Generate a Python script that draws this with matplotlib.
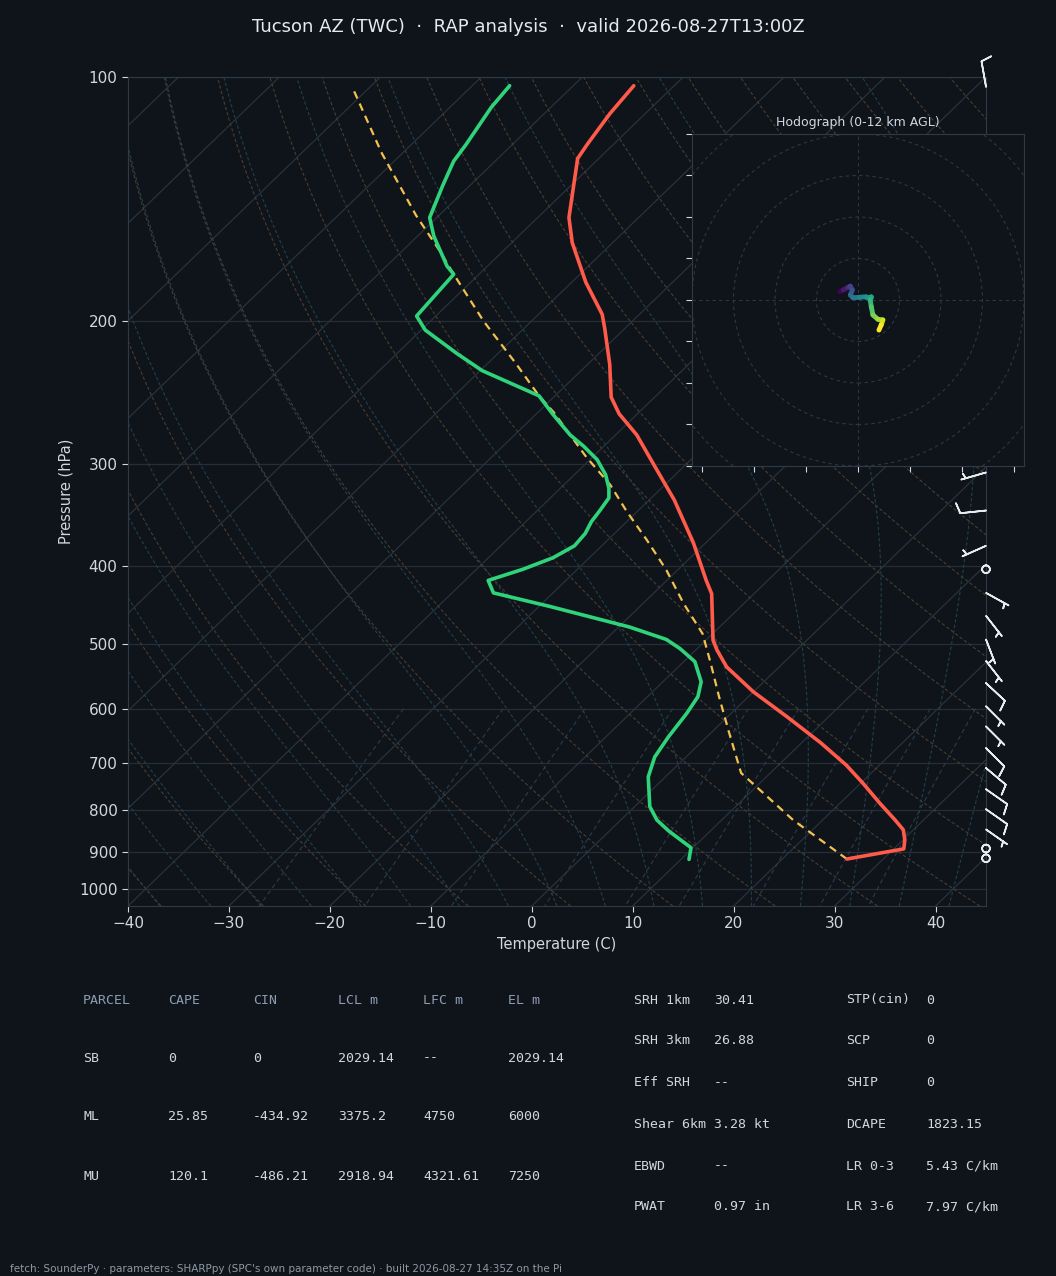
import numpy as np
import matplotlib
matplotlib.use("Agg")
import matplotlib.pyplot as plt
from matplotlib.collections import LineCollection
from matplotlib.ticker import FixedLocator, FixedFormatter, NullLocator
from matplotlib.patches import Circle

# ------------------------------------------------------------------ data
title = "Tucson AZ (TWC)  \u00b7  RAP analysis  \u00b7  valid 2026-08-27T13:00Z"
footer = ("fetch: SounderPy \u00b7 parameters: SHARPpy (SPC's own parameter code) "
          "\u00b7 built 2026-08-27 14:35Z on the Pi")

# temperature profile (hPa, degC), surface -> top
pres_t = [919, 893, 871, 846, 823, 784, 741, 704, 661, 614, 572, 533, 508, 494,
          433, 417, 375, 332, 299, 276, 260, 248, 226, 204, 196, 179, 160, 149,
          126, 121, 111, 102.5]
temp = [26.4, 31.0, 30.2, 29.0, 27.2, 23.9, 20.2, 16.7, 11.9, 5.9, 0.0, -5.2,
        -7.9, -9.3, -14.2, -16.1, -21.2, -27.5, -33.4, -37.9, -41.8, -44.3,
        -47.8, -52.0, -53.7, -58.6, -64.0, -66.9, -72.1, -72.6, -73.5, -74.0]

# dewpoint profile
pres_td = [920, 890, 849, 823, 792, 728, 688, 650, 608, 580, 556, 525, 506, 493,
           476, 449, 432, 417, 404, 391, 378, 365, 353, 342, 330, 321, 309, 296,
           285, 276, 260, 247, 230, 219, 205, 197, 175, 171, 157, 149, 136, 127,
           121, 109, 102.5]
dwpt = [10.8, 9.8, 5.9, 3.6, 1.5, -1.7, -3.1, -3.8, -4.4, -5.0, -6.2, -8.9,
        -11.7, -14.0, -18.9, -28.9, -35.9, -37.7, -35.4, -33.6, -32.7, -32.9,
        -33.5, -33.8, -34.2, -35.2, -36.9, -39.3, -42.0, -44.5, -48.4, -51.6,
        -59.8, -64.1, -69.6, -71.9, -72.5, -74.0, -78.4, -80.7, -82.7, -84.1,
        -84.6, -85.9, -86.3]

# surface-based parcel path
pres_parcel = [919, 823, 720, 637, 580, 527, 485, 445, 405, 372, 342, 318, 294,
               276, 259, 247, 225, 200, 175, 164, 148, 124, 103]
parcel_t = [26.4, 17.1, 7.1, 1.4, -2.9, -7.2, -11.0, -16.0, -21.1, -26.1, -31.2,
            -35.4, -40.6, -44.5, -48.4, -51.6, -57.3, -64.7, -72.5, -76.2, -82.3,
            -92.1, -101.7]

# wind barbs (hPa, kt, deg)
barb_p = [102.8, 307, 342, 378, 404, 432, 461, 493, 524, 558, 596, 631, 671,
          710, 754, 798, 845, 892, 917]
barb_spd = [10, 5, 10, 5, 0, 5, 5, 5, 5, 10, 5, 5, 10, 10, 10, 10, 5, 0, 0]
barb_dir = [350, 254, 264, 246, 0, 119, 142, 159, 142, 133, 135, 135, 135, 130,
            125, 125, 125, 0, 0]

# hodograph trace (kt), 0 -> 12 km
hodo_u = [-8.8, -7.2, -4.8, -3.7, -2.7, -3.7, -2.4, 0.8, 4.0, 6.4, 5.9, 6.4,
          7.2, 9.6, 12.0, 11.2, 10.1]
hodo_v = [4.0, 4.8, 6.1, 6.7, 4.8, 2.4, 1.1, 1.3, 1.6, 1.6, 0.0, -3.2, -7.2,
          -9.3, -9.6, -12.0, -14.5]

# parcel table
tbl_header = ["PARCEL", "CAPE", "CIN", "LCL m", "LFC m", "EL m"]
parcel_names = ["SB", "ML", "MU"]
cape = [0, 25.85, 120.1]
cin = [0, -434.92, -486.21]
lcl_m = [2029.14, 3375.2, 2918.94]
lfc_m = [None, 4750, 4321.61]
el_m = [2029.14, 6000, 7250]

# kinematic / composite table
kin_labels = ["SRH 1km", "SRH 3km", "Eff SRH", "Shear 6km", "EBWD", "PWAT"]
kin_values = ["30.41", "26.88", "--", "3.28 kt", "--", "0.97 in"]
cmp_labels = ["STP(cin)", "SCP", "SHIP", "DCAPE", "LR 0-3", "LR 3-6"]
cmp_values = ["0", "0", "0", "1823.15", "5.43 C/km", "7.97 C/km"]

# ------------------------------------------------------------------ style
BG = "#0f141a"
SPINE = "#2f3a47"
TXT = "#d0d7de"
HDR = "#8d9db2"
C_ISO = "#29323c"
C_PGRID = "#252e38"
C_DRY = "#4a3d30"
C_MOIST = "#22404a"
C_MIX = "#2a3c4b"
C_T = "#ff5a4a"
C_TD = "#2fd47a"
C_PAR = "#f2c14e"

P_BOT, P_TOP = 1050.0, 100.0
T_LEFT, T_RIGHT = -40.0, 45.0


def skew(t, p):
    p = np.asarray(p, float)
    return np.asarray(t, float) + (T_RIGHT - T_LEFT) * np.log(P_BOT / p) / np.log(P_BOT / P_TOP)


fig = plt.figure(figsize=(10.56, 12.76), dpi=100, facecolor=BG)
ax = fig.add_axes([0.12121, 0.28997, 0.8125, 0.64969], facecolor=BG)
ax.set_yscale("log")
ax.set_ylim(P_BOT, P_TOP)
ax.set_xlim(T_LEFT, T_RIGHT)
for s in ax.spines.values():
    s.set_color(SPINE)
ax.yaxis.set_major_locator(FixedLocator([100, 200, 300, 400, 500, 600, 700, 800, 900, 1000]))
ax.yaxis.set_major_formatter(FixedFormatter(["100", "200", "300", "400", "500", "600",
                                             "700", "800", "900", "1000"]))
ax.yaxis.set_minor_locator(NullLocator())
ax.set_xticks(np.arange(-40, 41, 10))
ax.tick_params(colors=TXT, labelsize=11, length=4, width=0.8)
ax.set_ylabel("Pressure (hPa)", color=TXT, fontsize=10.5)
ax.set_xlabel("Temperature (C)", color=TXT, fontsize=10.5)

# ---- background lines
pp = np.geomspace(P_BOT, P_TOP, 120)
for pl in [100, 200, 300, 400, 500, 600, 700, 800, 900, 1000]:
    ax.axhline(pl, color=C_PGRID, lw=0.9, zorder=0.5)
for t in np.arange(-160, 50, 10):
    ax.plot(skew(t, [P_BOT, P_TOP]), [P_BOT, P_TOP], color=C_ISO, lw=0.9, zorder=0.6)

# dry adiabats
for t0 in np.arange(-40, 201, 10):
    tt = (t0 + 273.15) * (pp / 1000.0) ** 0.2857 - 273.15
    ax.plot(skew(tt, pp), pp, color=C_DRY, lw=0.8, ls=(0, (3, 2)), zorder=0.7)

# moist adiabats (RK4 in ln p from 1000 hPa)
Rd, cp, Lv, eps = 287.04, 1005.7, 2.501e6, 0.622


def dTdlnp(T, p):
    es = 6.112 * np.exp(17.67 * (T - 273.15) / (T - 29.65))
    rs = eps * es / (p - es)
    return (Rd * T + Lv * rs) / (cp + Lv * Lv * rs * eps / (Rd * T * T))


def integrate(t0k, p_end, n=300):
    lnp = np.linspace(np.log(1000.0), np.log(p_end), n)
    T = np.array(t0k, float)
    out = [T.copy()]
    for i in range(n - 1):
        h = lnp[i + 1] - lnp[i]
        p0 = np.exp(lnp[i]); p1 = np.exp(lnp[i] + h / 2); p2 = np.exp(lnp[i + 1])
        k1 = dTdlnp(T, p0)
        k2 = dTdlnp(T + h / 2 * k1, p1)
        k3 = dTdlnp(T + h / 2 * k2, p1)
        k4 = dTdlnp(T + h * k3, p2)
        T = T + h / 6 * (k1 + 2 * k2 + 2 * k3 + k4)
        out.append(T.copy())
    return np.exp(lnp), np.array(out)


moist_t0 = np.arange(-50, 46, 5) + 273.15
p_up, t_up = integrate(moist_t0, P_TOP)
p_dn, t_dn = integrate(moist_t0, P_BOT, n=20)
p_m = np.concatenate([p_dn[::-1], p_up[1:]])
t_m = np.concatenate([t_dn[::-1], t_up[1:]]) - 273.15
for j in range(len(moist_t0)):
    ax.plot(skew(t_m[:, j], p_m), p_m, color=C_MOIST, lw=0.8, ls=(0, (3, 2)), zorder=0.7)

# mixing ratio lines
pmix = np.linspace(600, P_BOT, 50)
for w in [0.0004, 0.001, 0.002, 0.004, 0.007, 0.01, 0.016, 0.024, 0.032]:
    e = pmix * w / (eps + w)
    x = np.log(e / 6.112)
    td = 243.5 * x / (17.67 - x)
    ax.plot(skew(td, pmix), pmix, color=C_MIX, lw=0.8, ls=(0, (4, 3)), zorder=0.7)

# ---- profiles
ax.plot(skew(temp, pres_t), pres_t, color=C_T, lw=2.6, zorder=3, solid_capstyle="round")
ax.plot(skew(dwpt, pres_td), pres_td, color=C_TD, lw=2.6, zorder=3, solid_capstyle="round")
ax.plot(skew(parcel_t, pres_parcel), pres_parcel, color=C_PAR, lw=1.6,
        ls=(0, (3.5, 2.5)), zorder=2.8)

# ---- barbs
spd = np.array(barb_spd, float)
drc = np.deg2rad(np.array(barb_dir, float))
bu = -spd * np.sin(drc)
bv = -spd * np.cos(drc)
ax.barbs(np.ones(len(barb_p)), barb_p, bu, bv, transform=ax.get_yaxis_transform(),
         clip_on=False, length=6.1, color="#e8ebee", linewidth=1.2, zorder=4)

# ---- hodograph
axh = fig.add_axes([0.6553, 0.6348, 0.31439, 0.26019], facecolor=BG)
axh.set_xlim(-80, 80)
axh.set_ylim(-80, 80)
axh.set_xticks(np.arange(-75, 76, 25))
axh.set_yticks(np.arange(-80, 81, 20))
axh.tick_params(labelbottom=False, labelleft=False, colors=TXT, length=4, width=0.8)
for s in axh.spines.values():
    s.set_color(SPINE)
for r in range(20, 121, 20):
    axh.add_patch(Circle((0, 0), r, fill=False, ec="#2c3745", lw=0.8, ls=(0, (3, 3))))
axh.axhline(0, color="#2c3745", lw=0.8, ls=(0, (3, 3)))
axh.axvline(0, color="#2c3745", lw=0.8, ls=(0, (3, 3)))
pts = np.column_stack([hodo_u, hodo_v])
segs = np.stack([pts[:-1], pts[1:]], axis=1)
lc = LineCollection(segs, cmap="viridis", linewidths=3.5, capstyle="round")
lc.set_array(np.linspace(0, 1, len(segs)))
axh.add_collection(lc)
axh.set_title("Hodograph (0-12 km AGL)", color=TXT, fontsize=9, pad=6)

# ---- title & footer
fig.text(0.5, 1 - 27 / 1276, title, ha="center", va="center", color="#e6e9ee", fontsize=13)
fig.text(10 / 1056, 1 - 1269 / 1276, footer, ha="left", va="center", color="#8e98a3",
         fontsize=7.5)


# ---- tables
def fmt(v):
    return "--" if v is None else "%g" % v


MONO = "DejaVu Sans Mono"
col_x = [83, 168, 253, 338, 423, 508]
row_y = [1058, 1117, 1176]
for cx, h in zip(col_x, tbl_header):
    fig.text(cx / 1056, 1 - 1000 / 1276, h, family=MONO, fontsize=9.5, color=HDR,
             ha="left", va="center")
for i, name in enumerate(parcel_names):
    vals = [name, fmt(cape[i]), fmt(cin[i]), fmt(lcl_m[i]), fmt(lfc_m[i]), fmt(el_m[i])]
    for cx, v in zip(col_x, vals):
        fig.text(cx / 1056, 1 - row_y[i] / 1276, v, family=MONO, fontsize=9.5,
                 color=TXT, ha="left", va="center")

r_rows = [1000, 1041, 1083, 1124, 1166, 1207]
for i in range(6):
    y = 1 - r_rows[i] / 1276
    fig.text(634 / 1056, y, kin_labels[i], family=MONO, fontsize=9.5, color=TXT, va="center")
    fig.text(714 / 1056, y, kin_values[i], family=MONO, fontsize=9.5, color=TXT, va="center")
    fig.text(846 / 1056, y, cmp_labels[i], family=MONO, fontsize=9.5, color=TXT, va="center")
    fig.text(926 / 1056, y, cmp_values[i], family=MONO, fontsize=9.5, color=TXT, va="center")

fig.savefig("out.png", dpi=100, facecolor=BG)
